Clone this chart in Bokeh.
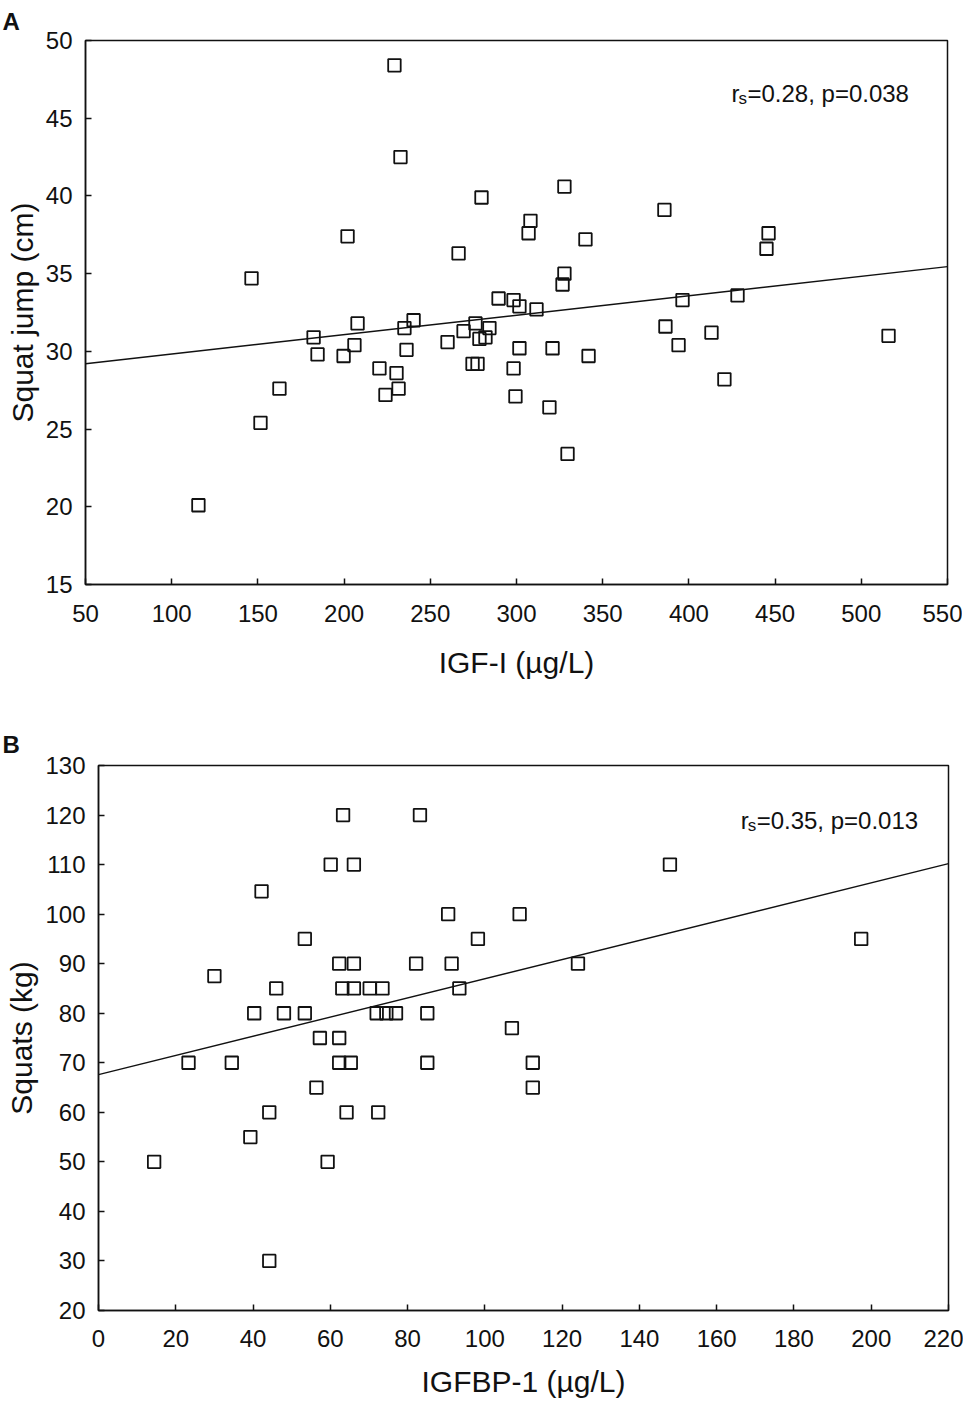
from bokeh.plotting import figure
from bokeh.models import Range1d, FixedTicker, Label
from bokeh.embed import file_html
from bokeh.resources import INLINE

# ---------------- Panel A data ----------------
igf1 = [229.2, 232.7, 202.0, 146.3, 266.4, 279.7, 327.8, 308.1, 307.0, 340.0,
        385.8, 446.2, 445.0, 327.8, 326.7, 289.6, 298.3, 301.7, 311.6, 396.3,
        428.2, 515.8, 182.3, 184.6, 207.8, 206.0, 199.7, 220.5, 224.0, 230.4,
        231.6, 235.0, 236.2, 240.3, 162.5, 151.5, 115.5, 260.0, 269.3, 276.2,
        284.3, 278.5, 282.0, 274.5, 277.4, 301.7, 298.3, 299.4, 320.9, 319.1,
        341.8, 329.6, 386.4, 394.0, 413.1, 420.6]
squat_jump = [48.4, 42.5, 37.4, 34.7, 36.3, 39.9, 40.6, 38.4, 37.6, 37.2,
              39.1, 37.6, 36.6, 35.0, 34.3, 33.4, 33.3, 32.9, 32.7, 33.3,
              33.6, 31.0, 30.9, 29.8, 31.8, 30.4, 29.7, 28.9, 27.2, 28.6,
              27.6, 31.5, 30.1, 32.0, 27.6, 25.4, 20.1, 30.6, 31.3, 31.8,
              31.5, 30.8, 30.9, 29.2, 29.2, 30.2, 28.9, 27.1, 30.2, 26.4,
              29.7, 23.4, 31.6, 30.4, 31.2, 28.2]
fitA_x = [50, 550]
fitA_y = [29.2, 35.45]
A_xticks = [50, 100, 150, 200, 250, 300, 350, 400, 450, 500, 550]
A_yticks = [15, 20, 25, 30, 35, 40, 45, 50]

# ---------------- Panel B data ----------------
igfbp1 = [14.4, 23.3, 30.0, 34.5, 39.3, 40.3, 42.2, 44.2, 44.2, 46.0,
          48.0, 53.4, 53.4, 56.4, 57.3, 59.3, 60.1, 62.3, 62.3, 62.3,
          63.1, 63.3, 64.2, 65.3, 66.1, 66.1, 66.1, 70.2, 72.0, 72.4,
          73.5, 74.5, 77.0, 82.2, 83.2, 85.1, 85.1, 90.5, 91.4, 93.4,
          98.2, 107.0, 109.0, 112.4, 112.4, 124.1, 147.9, 197.4]
squats = [50, 70, 87.5, 70, 55, 80, 104.6, 60, 30, 85,
          80, 95, 80, 65, 75, 50, 110, 90, 75, 70,
          85, 120, 60, 70, 110, 90, 85, 85, 80, 60,
          85, 80, 80, 90, 120, 80, 70, 100, 90, 85,
          95, 77, 100, 70, 65, 90, 110, 95]
fitB_x = [0, 220]
fitB_y = [67.6, 110.2]
B_xticks = [0, 20, 40, 60, 80, 100, 120, 140, 160, 180, 200, 220]
B_yticks = [20, 30, 40, 50, 60, 70, 80, 90, 100, 110, 120, 130]

FONT = "Liberation Sans"
INK = "#111111"


def style(p, xticks, yticks, xlabel, ylabel, panel, panel_offset, panel_standoff, x_std, xl_std):
    p.grid.visible = False
    p.outline_line_color = INK
    p.outline_line_width = 1.5
    p.xaxis.ticker = FixedTicker(ticks=xticks)
    p.yaxis.ticker = FixedTicker(ticks=yticks)
    for ax in (p.xaxis[0], p.yaxis[0]):
        ax.axis_line_color = INK
        ax.axis_line_width = 1.5
        ax.major_tick_line_color = INK
        ax.major_tick_line_width = 1.5
        ax.major_tick_in = 6
        ax.major_tick_out = 0
        ax.minor_tick_line_color = None
        ax.major_label_text_font = FONT
        ax.major_label_text_font_size = "24px"
        ax.major_label_text_color = INK
        ax.axis_label_text_font = FONT
        ax.axis_label_text_font_size = "30px"
        ax.axis_label_text_font_style = "normal"
        ax.axis_label_text_color = INK
    p.yaxis.axis_label = ylabel
    p.yaxis.major_label_standoff = 13
    p.yaxis.axis_label_standoff = 4
    p.xaxis.axis_label = xlabel
    p.xaxis.major_label_standoff = x_std
    p.xaxis.axis_label_standoff = xl_std
    p.title.text = panel
    p.title.align = "left"
    p.title.offset = panel_offset
    p.title.standoff = panel_standoff
    p.title.text_font = FONT
    p.title.text_font_size = "24px"
    p.title.text_font_style = "bold"
    p.title.text_color = INK
    p.background_fill_color = "white"
    p.border_fill_color = "white"


def add_stat(p, x, y, rs, pv):
    common = dict(x=x, y=y, text_font=FONT, text_color=INK,
                  text_baseline="alphabetic", text_align="left")
    p.add_layout(Label(text="r", text_font_size="24px", **common))
    p.add_layout(Label(text="s", text_font_size="17px", x_offset=7, y_offset=-5, **common))
    p.add_layout(Label(text="=%s, p=%s" % (rs, pv), text_font_size="24px", x_offset=16, **common))


# ---------------- Figure A ----------------
pA = figure(frame_width=862, frame_height=544,
            min_border_left=85, min_border_right=15, min_border_top=40, min_border_bottom=136,
            x_range=Range1d(50, 550), y_range=Range1d(15, 50),
            output_backend="svg", toolbar_location=None)
style(pA, A_xticks, A_yticks, "IGF-I (µg/L)", "Squat jump (cm)", "A", -83, 11, 20, 21)
pA.line(fitA_x, fitA_y, line_color=INK, line_width=1.4)
pA.scatter(igf1, squat_jump, marker="square", size=12.5, fill_color=None,
           line_color=INK, line_width=1.8)
add_stat(pA, 424.7, 46.56, "0.28", "0.038")

# ---------------- Figure B ----------------
pB = figure(frame_width=850, frame_height=545,
            min_border_left=98, min_border_right=15, min_border_top=45, min_border_bottom=94,
            x_range=Range1d(0, 220), y_range=Range1d(20, 130),
            output_backend="svg", toolbar_location=None)
style(pB, B_xticks, B_yticks, "IGFBP-1 (µg/L)", "Squats (kg)", "B", -96, 15, 19, 15)
pB.line(fitB_x, fitB_y, line_color=INK, line_width=1.4)
pB.scatter(igfbp1, squats, marker="square", size=12.5, fill_color=None,
           line_color=INK, line_width=1.8)
add_stat(pB, 166.2, 118.9, "0.35", "0.013")

open("out.html", "w").write(file_html([pA, pB], INLINE))
